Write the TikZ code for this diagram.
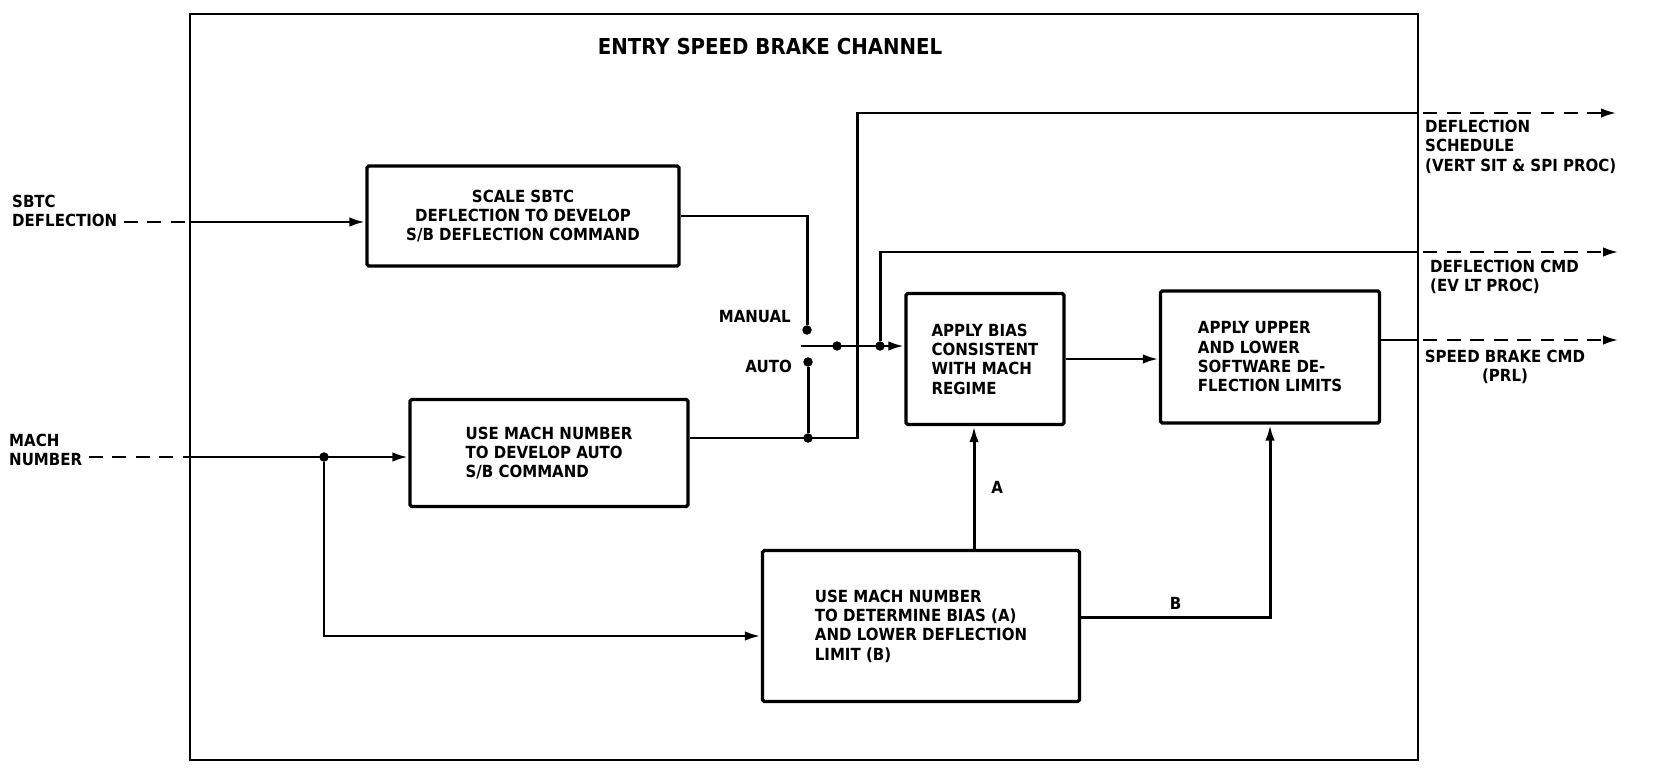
\documentclass[tikz,border=0pt]{standalone}
\usepackage{fontspec}
\setmainfont{DejaVu Sans Condensed}
\usetikzlibrary{arrows.meta,positioning}

\begin{document}
\begin{tikzpicture}[
  x=0.02cm,
  y=-0.02cm,
  >={Latex[length=3.2mm,width=1.9mm]},
  font=\fontsize{9.5}{11}\selectfont\bfseries,
  block/.style={
    draw,
    line width=1.9pt,
    rounded corners=1pt,
    inner sep=1mm,
    align=left
  },
  wire/.style={line width=1.7pt},
  ext/.style={line width=1.7pt,dash pattern=on 2.8mm off 1.9mm},
  dot/.style={circle,fill,inner sep=0pt,minimum size=1.9mm}
]
  \useasboundingbox (0,0) rectangle (1655,770);

  % channel frame and title
  \node[draw,line width=1.5pt,inner sep=0pt,outer sep=0pt,
    minimum width=24.56cm,minimum height=14.92cm] (frame) at (804,387) {};
  \node[font=\fontsize{12.5}{15}\selectfont\bfseries] (title) at (770,47) {ENTRY SPEED BRAKE CHANNEL};

  % blocks
  \node[block,align=center,minimum width=6.24cm,minimum height=2cm] (scale) at (523,216)
    {SCALE SBTC\\DEFLECTION TO DEVELOP\\S/B DEFLECTION COMMAND};
  \node[block,minimum width=5.56cm,minimum height=2.14cm] (autocmd) at (549,453)
    {USE MACH NUMBER\\TO DEVELOP AUTO\\S/B COMMAND};
  \node[block,minimum width=3.16cm,minimum height=2.62cm] (bias) at (985,359)
    {APPLY BIAS\\CONSISTENT\\WITH MACH\\REGIME};
  \node[block,minimum width=4.38cm,minimum height=2.64cm] (limits) at (1270,357)
    {APPLY UPPER\\AND LOWER\\SOFTWARE DE-\\FLECTION LIMITS};
  \node[block,minimum width=6.34cm,minimum height=3.02cm] (machsched) at (921,626)
    {USE MACH NUMBER\\TO DETERMINE BIAS (A)\\AND LOWER DEFLECTION\\LIMIT (B)};

  % switch and junctions
  \node[dot] (manual) at (807,330) {};
  \node[dot] (auto) at (808,362) {};
  \node[anchor=east] (manlbl) at (797,317) {MANUAL};
  \node[anchor=east] (autolbl) at (798,366) {AUTO};
  \coordinate (lever) at (801,346);
  \node[dot] (j1) at (837,346) {};
  \node[dot] (j2) at (880,346) {};
  \node[dot] (j3) at (808,438) {};
  \node[dot] (j4) at (324,457) {};
  \coordinate (bend1) at (857,113);
  \coordinate (abias) at ([xshift=-2.2mm]bias.south);

  % inputs
  \node[anchor=west,align=left] (sbtclbl) at (6,211) {SBTC\\DEFLECTION};
  \node[anchor=west,align=left] (machlbl) at (3,450) {MACH\\NUMBER};
  \coordinate (in1) at (124,222);
  \coordinate (in2) at (89,457);
  \draw[ext] (in1) -- (in1 -| frame.west);
  \draw[wire,->] (in1 -| frame.west) -- (in1 -| scale.west);
  \draw[ext] (in2) -- (in2 -| frame.west);
  \draw[wire,->] (in2 -| frame.west) -- (in2 -| autocmd.west);
  \draw[wire,->] (j4) |- ([yshift=-2mm]machsched.west);

  % outputs
  \coordinate (o1) at (1418,113);
  \coordinate (o1e) at (1617,113);
  \coordinate (o2) at (1418,252);
  \coordinate (o2e) at (1619,252);
  \coordinate (o3) at (1418,340);
  \coordinate (o3e) at (1619,340);

  \draw[wire] (scale.east) -| (manual);
  \draw[wire,->] (lever) -- (lever -| bias.west);
  \draw[wire] (autocmd.east |- j3) -| (bend1) -- (o1);
  \draw[wire] (j3) -- (auto);
  \draw[wire] (j2) |- (o2);
  \draw[wire,->] (bias.east) -- (bias.east -| limits.west);
  \draw[wire] (limits.east |- o3) -- (o3);
  \draw[ext,->] ([xshift=1mm]o1) -- (o1e);
  \draw[ext,->] ([xshift=1mm]o2) -- (o2e);
  \draw[ext,->] ([xshift=1mm]o3) -- (o3e);
  \draw[wire,->] (abias |- machsched.north) -- (abias)
    node[midway,right=2mm] {A};
  \draw[wire,->] ([yshift=1.8mm]machsched.east) -| (limits.south)
    node[pos=0.25,above] {B};

  \node[anchor=north west,align=left] (schedlbl) at (1419,114)
    {DEFLECTION\\SCHEDULE\\(VERT SIT \& SPI PROC)};
  \node[anchor=north west,align=left] (cmdlbl) at (1424,254)
    {DEFLECTION CMD\\(EV LT PROC)};
  \node[anchor=north,align=center] (sblbl) at (1505,344)
    {SPEED BRAKE CMD\\(PRL)};
\end{tikzpicture}
\end{document}
